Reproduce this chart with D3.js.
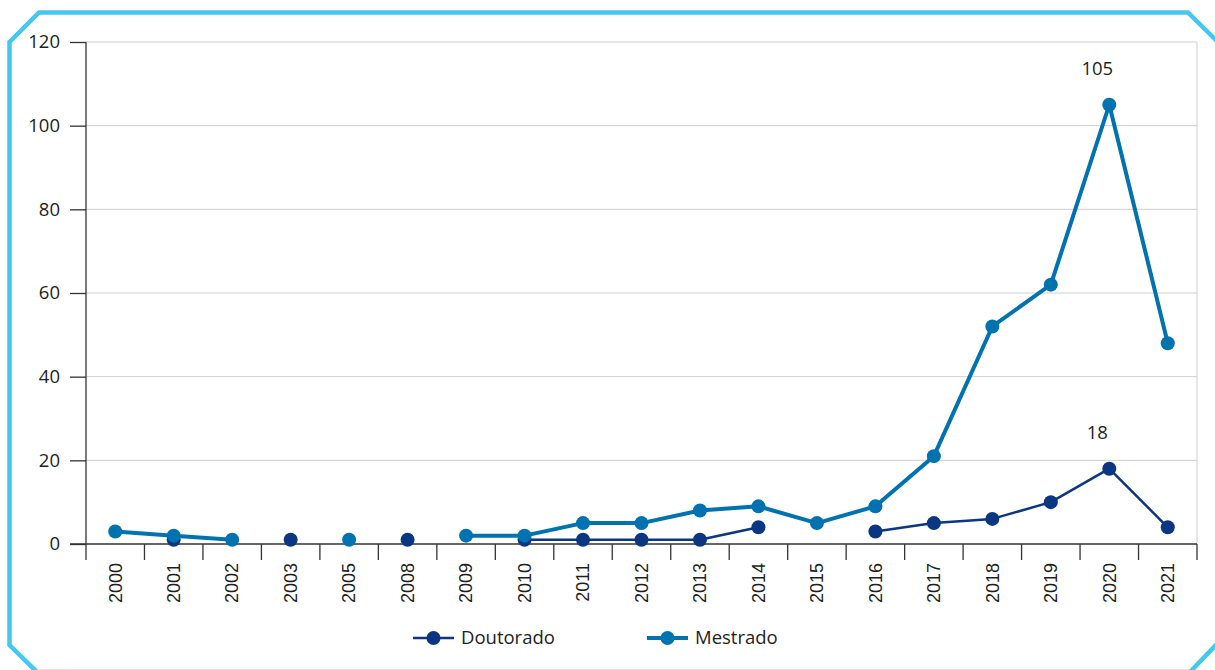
<!DOCTYPE html>
<html><head><meta charset="utf-8">
<script src="https://cdn.jsdelivr.net/npm/d3@7"></script>
<style>body{margin:0;background:#fff}svg{display:block}</style>
</head><body>
<svg id="c" width="1215" height="670"></svg>
<script>
const categories = ["2000","2001","2002","2003","2005","2008","2009","2010","2011","2012","2013","2014","2015","2016","2017","2018","2019","2020","2021"];
const doutorado = [null,1,null,1,null,1,null,1,1,1,1,4,null,3,5,6,10,18,4];
const mestrado  = [3,2,1,null,1,null,2,2,5,5,8,9,5,9,21,52,62,105,48];
const yTicks = [0,20,40,60,80,100,120];
const seriesNames = ["Doutorado","Mestrado"];
const labelled = [{series:"Mestrado", cat:"2020", value:105},{series:"Doutorado", cat:"2020", value:18}];

const colors = {Doutorado:"#0b3682", Mestrado:"#0072b0"};
const widths = {Doutorado:2.5, Mestrado:4};

const svg = d3.select("#c");
// frame
svg.append("path")
  .attr("d","M9.5,42 L39,12.5 L1188,12.5 L1218,42 L1218,643 L1190,672 L37,672 L9.5,645 Z")
  .attr("fill","none").attr("stroke","#45c8f0").attr("stroke-width",4.5);

const L=86, R=1197, T=42, B=544;
const x = d3.scaleBand().domain(categories).range([L,R]).padding(0);
const y = d3.scaleLinear().domain([0,120]).range([B,T]);
const cx = c => x(c)+x.bandwidth()/2;

// grid
svg.append("g").selectAll("line").data(yTicks.filter(d=>d>0)).join("line")
  .attr("x1",L).attr("x2",R).attr("y1",d=>y(d)).attr("y2",d=>y(d))
  .attr("stroke","#cfcfcf").attr("stroke-width",1);
svg.append("line").attr("x1",R).attr("x2",R).attr("y1",T).attr("y2",B)
  .attr("stroke","#cfcfcf").attr("stroke-width",1);

// y axis
const ya = svg.append("g").attr("transform",`translate(${L},0)`)
  .call(d3.axisLeft(y).tickValues(yTicks).tickSize(16).tickPadding(10));
ya.select(".domain").remove();
ya.append("line").attr("x1",0).attr("x2",0).attr("y1",T).attr("y2",B+16).attr("stroke","#333").attr("stroke-width",1.3);
ya.selectAll(".tick line").attr("stroke","#333").attr("stroke-width",1.3);
ya.selectAll("text").attr("font-family","Open Sans").attr("font-size",18.5).attr("fill","#1e1e1e");

// x axis
const xa = svg.append("g").attr("transform",`translate(0,${B})`);
xa.append("line").attr("x1",70).attr("x2",R).attr("y1",0).attr("y2",0).attr("stroke","#333").attr("stroke-width",1.3);
const bounds = categories.map(c=>x(c)).concat([R]).slice(1);
xa.selectAll("line.tk").data(bounds).join("line").attr("class","tk")
  .attr("x1",d=>d).attr("x2",d=>d).attr("y1",0).attr("y2",16).attr("stroke","#333").attr("stroke-width",1.3);
xa.selectAll("text").data(categories).join("text")
  .attr("transform",d=>`translate(${cx(d)},19) rotate(-90)`)
  .attr("dy","0.35em").attr("text-anchor","end")
  .attr("font-family","Liberation Sans").attr("font-size",18).attr("fill","#1e1e1e")
  .text(d=>d);

// series
const data = {Doutorado:doutorado, Mestrado:mestrado};
const line = d3.line().defined(d=>d.v!==null).x(d=>cx(d.c)).y(d=>y(d.v));
seriesNames.forEach(name=>{
  const pts = categories.map((c,i)=>({c, v:data[name][i]}));
  const g = svg.append("g");
  g.append("path").datum(pts).attr("d",line).attr("fill","none")
    .attr("stroke",colors[name]).attr("stroke-width",widths[name]).attr("stroke-linejoin","round");
  g.selectAll("circle").data(pts.filter(d=>d.v!==null)).join("circle")
    .attr("cx",d=>cx(d.c)).attr("cy",d=>y(d.v)).attr("r",7).attr("fill",colors[name]);
});

// value labels
svg.selectAll("text.lbl").data(labelled).join("text").attr("class","lbl")
  .attr("x",d=>cx(d.cat)-12).attr("y",d=>y(d.value)-30).attr("text-anchor","middle")
  .attr("font-family","Open Sans").attr("font-size",18.5).attr("fill","#1e1e1e")
  .text(d=>d.value);

// legend
const leg = [{name:"Doutorado", x:413},{name:"Mestrado", x:647}];
leg.forEach(l=>{
  const g = svg.append("g").attr("transform",`translate(${l.x},638)`);
  g.append("line").attr("x1",0).attr("x2",41).attr("stroke",colors[l.name]).attr("stroke-width",widths[l.name]);
  g.append("circle").attr("cx",20.5).attr("r",7).attr("fill",colors[l.name]);
  g.append("text").attr("x",48).attr("dy","0.35em").attr("font-family","Open Sans").attr("font-size",18.5).attr("fill","#1e1e1e").text(l.name);
});
</script>
</body></html>
